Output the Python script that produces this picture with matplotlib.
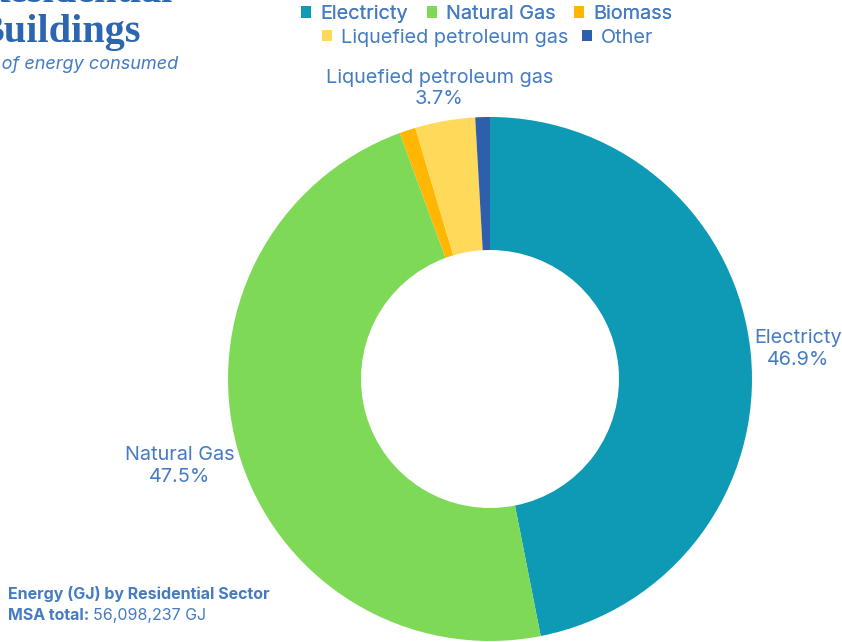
import matplotlib.pyplot as plt
import numpy as np

# energy share by source, residential sector
sources = ['Electricty', 'Natural Gas', 'Biomass', 'Liquefied petroleum gas', 'Other']
shares = [46.9, 47.5, 1.0, 3.7, 0.9]
colors = ['#0e9ab4', '#7ed957', '#ffb703', '#ffd95a', '#2e5fac']
labelled = ['Electricty', 'Natural Gas', 'Liquefied petroleum gas']
label_dist = [1.18, 1.23, 1.125]

text_blue = '#447bc2'
title_blue = '#2c66b0'

plt.rcParams['font.family'] = ['Inter', 'DejaVu Sans']

W, H = 842, 642
fig = plt.figure(figsize=(W / 100, H / 100), dpi=100)
ax = fig.add_axes([0, 0, 1, 1])

cx, cy, R = 490, 263, 262
wedges, _ = ax.pie(shares, colors=colors, startangle=90, counterclock=False,
                   center=(cx, cy), radius=R, frame=True,
                   wedgeprops=dict(width=R - 129, linewidth=0))
ax.set_xlim(0, W)
ax.set_ylim(0, H)
ax.set_aspect('equal')
ax.axis('off')

# percentage labels outside the ring for the bigger slices
for w, name, val in zip(wedges, sources, shares):
    if name not in labelled:
        continue
    d = label_dist[labelled.index(name)]
    ang = np.deg2rad((w.theta1 + w.theta2) / 2)
    x = cx + d * R * np.cos(ang)
    y = cy + d * R * np.sin(ang)
    ax.text(x, y, f'{name}\n{val:.1f}%', ha='center', va='center',
            fontsize=14.3, color=text_blue, linespacing=1.25)

# legend in two rows
leg_kw = dict(loc='center', frameon=False, handlelength=0.5, handleheight=0.5,
              handletextpad=0.45, fontsize=14.3,
              labelcolor=text_blue, borderaxespad=0, borderpad=0)
row1 = fig.legend(wedges[:3], sources[:3], bbox_to_anchor=(0.578, 0.978), ncol=3,
                  columnspacing=0.95, **leg_kw)
fig.add_artist(row1)
fig.legend(wedges[3:], sources[3:], bbox_to_anchor=(0.579, 0.941), ncol=2,
           columnspacing=0.7, **leg_kw)

# heading, partly off the left edge
fig.text(173 / W, 1 - 2 / H, 'Residential', ha='right', va='baseline',
         fontsize=29, fontweight='bold', family='Liberation Serif', color=title_blue)
fig.text(141 / W, 1 - 42 / H, 'Buildings', ha='right', va='baseline',
         fontsize=29, fontweight='bold', family='Liberation Serif', color=title_blue)
fig.text(178 / W, 1 - 69 / H, 'Share of energy consumed', ha='right', va='baseline',
         fontsize=13, style='italic', color=text_blue)

fig.text(8 / W, 1 - 599 / H, 'Energy (GJ) by Residential Sector', ha='left', va='baseline',
         fontsize=11.5, fontweight='bold', color=text_blue)
total = fig.text(8 / W, 1 - 620 / H, 'MSA total:', ha='left', va='baseline',
                 fontsize=11.5, fontweight='bold', color=text_blue)
ax.annotate('56,098,237 GJ', xy=(1, 0), xycoords=total, xytext=(3, 0),
            textcoords='offset points', ha='left', va='bottom',
            fontsize=11.5, color=text_blue)

fig.savefig('out.png', dpi=100)
